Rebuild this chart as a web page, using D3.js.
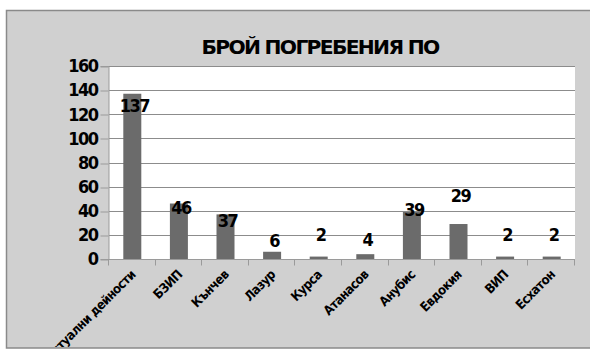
<!DOCTYPE html>
<html>
<head>
<meta charset="utf-8">
<script src="https://cdn.jsdelivr.net/npm/d3@7"></script>
<style>
  body { margin: 0; background: #fff; }
  svg text { font-family: "DejaVu Sans Condensed", "DejaVu Sans", sans-serif; font-stretch: condensed; font-weight: bold; fill: #000; }
</style>
</head>
<body>
<div id="chart"></div>
<script>
// Брой погребения по агенции
const title = "БРОЙ ПОГРЕБЕНИЯ ПО";
const categories = ["Ритуални дейности", "БЗИП", "Кънчев", "Лазур", "Курса", "Атанасов", "Анубис", "Евдокия", "ВИП", "Есхатон"];
const counts = [137, 46, 37, 6, 2, 4, 39, 29, 2, 2];
const yTicks = [0, 20, 40, 60, 80, 100, 120, 140, 160];

// hand placed data labels in the original, nudges in px
const labelNudge = [32, 24, 26, 9, -2, 5, 18, -8, -2, -2];

let width = 590,
    height = 351,
    margin = ({ top: 66, right: 15, bottom: 92, left: 109 });

const svg = d3.select("#chart")
    .append("svg")
    .attr("width", width)
    .attr("height", height)
    .attr("viewBox", [0, 0, width, height]);

svg.append("clipPath")
    .attr("id", "area-clip")
    .append("rect")
    .attr("x", 7).attr("y", 11)
    .attr("width", 700).attr("height", 336);

// chart area
svg.append("rect")
    .attr("x", 6.5).attr("y", 10.5)
    .attr("width", 700).attr("height", 337.5)
    .attr("fill", "#d0d0d0")
    .attr("stroke", "#8a8a8a")
    .attr("stroke-width", 1.5);

let x = d3.scaleBand()
    .domain(categories)
    .range([margin.left, width - margin.right])
    .padding(0);

let y = d3.scaleLinear()
    .domain([0, 160])
    .range([height - margin.bottom, margin.top]);

// plot area
svg.append("rect")
    .attr("x", margin.left)
    .attr("y", margin.top)
    .attr("width", width - margin.right - margin.left)
    .attr("height", y(0) - margin.top)
    .attr("fill", "#fff");

svg.append("g")
    .selectAll("line")
    .data(yTicks.filter(d => d > 0))
    .join("line")
    .attr("x1", margin.left)
    .attr("x2", width - margin.right)
    .attr("y1", d => Math.round(y(d)) + 0.5)
    .attr("y2", d => Math.round(y(d)) + 0.5)
    .attr("stroke", "#8c8c8c");

// y axis
const yAxis = svg.append("g")
    .attr("transform", `translate(${margin.left - 0.5},0)`)
    .call(d3.axisLeft(y).tickValues(yTicks).tickSize(8).tickPadding(3).tickFormat(d3.format("d")));
yAxis.select(".domain").attr("stroke", "#9a9a9a");
yAxis.selectAll(".tick line").attr("stroke", "#9a9a9a")
    .attr("transform", d => `translate(0,${Math.round(y(d)) + 0.5 - y(d)})`);
yAxis.selectAll(".tick text")
    .attr("font-size", 18)
    .attr("letter-spacing", -1.5)
    .attr("font-family", null);

// bars
const bw = 18;
svg.append("g")
    .selectAll("rect")
    .data(counts)
    .join("rect")
    .attr("x", (d, i) => x(categories[i]) + x.bandwidth() / 2 - bw / 2)
    .attr("y", d => y(d))
    .attr("width", bw)
    .attr("height", d => y(0) - y(d))
    .attr("fill", "#6b6b6b");

// x axis line + ticks between categories
const base = Math.round(y(0)) + 0.5;
svg.append("line")
    .attr("x1", margin.left - 8).attr("x2", width - margin.right)
    .attr("y1", base).attr("y2", base)
    .attr("stroke", "#9a9a9a");

svg.append("g")
    .selectAll("line")
    .data(categories.concat(["__end"]))
    .join("line")
    .attr("x1", (d, i) => Math.round(margin.left + i * x.bandwidth()) - 0.5)
    .attr("x2", (d, i) => Math.round(margin.left + i * x.bandwidth()) - 0.5)
    .attr("y1", base)
    .attr("y2", base + 6)
    .attr("stroke", "#9a9a9a");

// data labels
svg.append("g")
    .selectAll("text")
    .data(counts)
    .join("text")
    .attr("x", (d, i) => x(categories[i]) + x.bandwidth() / 2 + 2)
    .attr("y", (d, i) => y(d) - 20 + labelNudge[i])
    .attr("dy", "0.36em")
    .attr("text-anchor", "middle")
    .attr("font-size", 18)
    .attr("letter-spacing", -1.5)
    .text(d => d);

// category labels
svg.append("g")
    .attr("clip-path", "url(#area-clip)")
    .selectAll("text")
    .data(categories)
    .join("text")
    .attr("transform", d => `translate(${x(d) + x.bandwidth() / 2 + 4},${base + 16}) rotate(-45)`)
    .attr("text-anchor", "end")
    .attr("font-size", 13)
    .attr("letter-spacing", -0.6)
    .text(d => d);

// title
svg.append("text")
    .attr("x", 320)
    .attr("y", 54)
    .attr("text-anchor", "middle")
    .attr("font-size", 20)
    .attr("letter-spacing", -1.5)
    .attr("textLength", 237)
    .attr("lengthAdjust", "spacingAndGlyphs")
    .text(title);
</script>
</body>
</html>
